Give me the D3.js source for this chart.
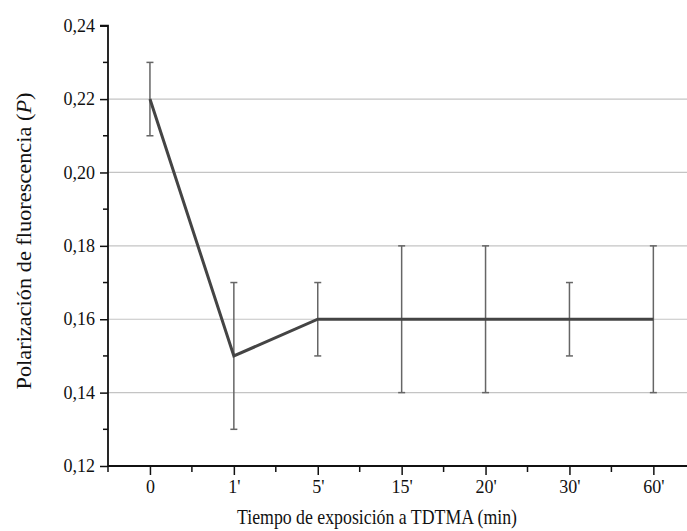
<!DOCTYPE html>
<html><head><meta charset="utf-8">
<script src="https://cdn.jsdelivr.net/npm/d3@7"></script>
<style>body{margin:0;background:#fff}svg{display:block}svg text{font-family:"Liberation Serif","Times New Roman",Times,"DejaVu Serif",serif}</style>
</head><body>
<svg id="c" width="687" height="531"></svg>
<script>
const categories = ["0", "1'", "5'", "15'", "20'", "30'", "60'"];
const values = [0.22, 0.15, 0.16, 0.16, 0.16, 0.16, 0.16];
const errors = [0.01, 0.02, 0.01, 0.02, 0.02, 0.01, 0.02];
const yTicks = [0.12, 0.14, 0.16, 0.18, 0.20, 0.22, 0.24];
const yMinor = [0.13, 0.15, 0.17, 0.19, 0.21, 0.23];
const xTitle = "Tiempo de exposición a TDTMA (min)";

(function () {
const svg = d3.select("#c");
const mLeft = 108, mTop = 25.7, mBottom = 466;
const x = d3.scaleLinear().domain([-0.5, 6.5]).range([mLeft, mLeft + 7 * 83.9]);
const y = d3.scaleLinear().domain([0.12, 0.24]).range([mBottom, mTop]);
const fmt = d => d.toFixed(2).replace(".", ",");

// gridlines
svg.append("g").selectAll("line").data(yTicks.filter(d => d > 0.12 && d < 0.24)).join("line")
  .attr("x1", mLeft).attr("x2", 687).attr("y1", d => y(d)).attr("y2", d => y(d))
  .attr("stroke", "#c4c4c4").attr("stroke-width", 1.2);

// y axis
const ya = svg.append("g").attr("transform", `translate(${mLeft},0)`)
  .call(d3.axisLeft(y).tickValues(yTicks).tickFormat(fmt).tickSize(8).tickPadding(5));
ya.append("g").selectAll("line").data(yMinor).join("line")
  .attr("x1", 0).attr("x2", -5).attr("y1", d => y(d)).attr("y2", d => y(d)).attr("stroke", "#111").attr("stroke-width", 1.5);

// x axis
const xa = svg.append("g").attr("transform", `translate(0,${mBottom})`)
  .call(d3.axisBottom(x).tickValues(d3.range(categories.length)).tickFormat(i => categories[i]).tickSize(9).tickPadding(5));
xa.append("g").selectAll("line").data(d3.range(-0.5, 6.5, 1)).join("line")
  .attr("x1", d => x(d)).attr("x2", d => x(d)).attr("y1", 0).attr("y2", 6).attr("stroke", "#111").attr("stroke-width", 1.5);

[ya, xa].forEach(a => {
  a.attr("font-family", null);
  a.select(".domain").attr("stroke", "#111").attr("stroke-width", 1.8);
  a.selectAll(".tick line").attr("stroke", "#111").attr("stroke-width", 1.5);
  a.selectAll("text").attr("font-size", 18).attr("fill", "#111");
});
ya.select(".domain").attr("d", `M-8,${y(0.24)}H0V${mBottom}`);
xa.select(".domain").attr("d", `M${mLeft},0H687`);

// error bars
const eb = svg.append("g").attr("stroke", "#666").attr("stroke-width", 1.5);
values.forEach((v, i) => {
  const cx = x(i), y1 = y(v + errors[i]), y2 = y(v - errors[i]);
  eb.append("line").attr("x1", cx).attr("x2", cx).attr("y1", y1).attr("y2", y2);
  eb.append("line").attr("x1", cx - 3.5).attr("x2", cx + 3.5).attr("y1", y1).attr("y2", y1);
  eb.append("line").attr("x1", cx - 3.5).attr("x2", cx + 3.5).attr("y1", y2).attr("y2", y2);
});

// line
svg.append("path").datum(values)
  .attr("d", d3.line().x((d, i) => x(i)).y(d => y(d)))
  .attr("fill", "none").attr("stroke", "#444").attr("stroke-width", 3).attr("stroke-linejoin", "miter");

// titles
svg.append("text").attr("x", 377).attr("y", 524).attr("text-anchor", "middle")
  .attr("font-size", 22).attr("fill", "#111")
  .attr("textLength", 280).attr("lengthAdjust", "spacingAndGlyphs").text(xTitle);
const yt = svg.append("text").attr("transform", "translate(31,241) rotate(-90)").attr("text-anchor", "middle")
  .attr("font-size", 22).attr("fill", "#111")
  .attr("textLength", 297).attr("lengthAdjust", "spacingAndGlyphs");
yt.append("tspan").text("Polarización de fluorescencia (");
yt.append("tspan").attr("font-style", "italic").text("P");
yt.append("tspan").text(")");
})();
</script>
</body></html>
